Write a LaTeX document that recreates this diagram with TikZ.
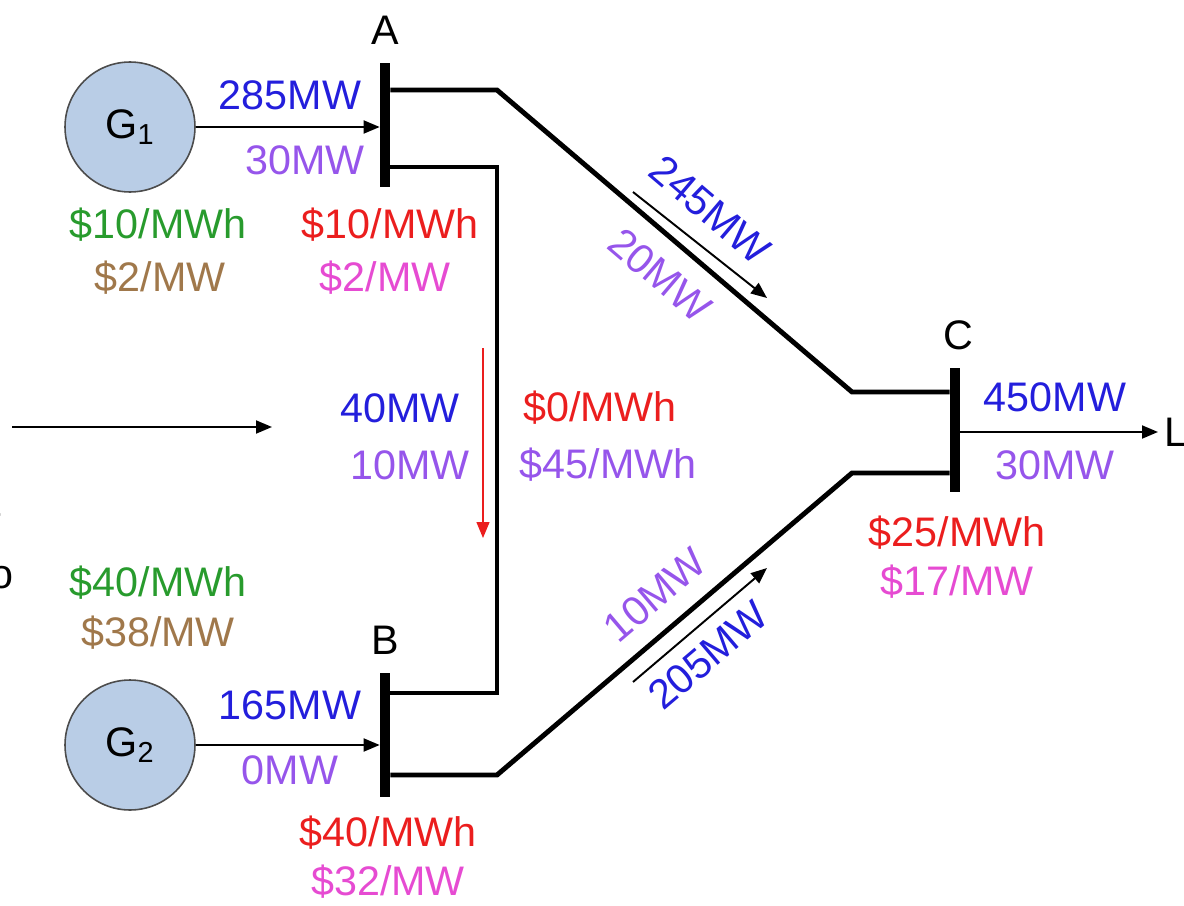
\documentclass[tikz,border=0pt]{standalone}
\usepackage{fontspec}
\setmainfont{Liberation Sans}
\usetikzlibrary{positioning,arrows.meta}
\definecolor{mwblue}{RGB}{35,30,220}
\definecolor{mwpurple}{RGB}{150,85,235}
\definecolor{costgreen}{RGB}{40,155,45}
\definecolor{costbrown}{RGB}{160,120,75}
\definecolor{lmpred}{RGB}{235,30,30}
\definecolor{lmppink}{RGB}{230,75,210}
\definecolor{genfill}{RGB}{185,205,230}
\tikzset{
  flowarrow/.style={-{Triangle[length=3.2mm,width=2.6mm]}, line width=1.1pt},
  netline/.style={line width=2.8pt, line join=miter},
  busbar/.style={fill=black, inner sep=0pt, minimum width=0.2cm, minimum height=2.5cm},
  gen/.style={circle, draw=black!70, line width=0.9pt, fill=genfill, minimum size=2.6cm, inner sep=0pt},
  lbl/.style={inner sep=1pt}
}
\begin{document}
\begin{tikzpicture}[x=0.02cm, y=-0.02cm, every node/.style={font=\fontsize{23.5}{28}\selectfont}]
  \useasboundingbox (0,0) rectangle (1184,906);
  % generators and buses
  \node[gen] (G1) at (130,127) {G\textsubscript{1}};
  \node[gen] (G2) at (130,745) {G\textsubscript{2}};
  \node[busbar] (busA) at (385,125) {};
  \node[busbar] (busB) at (385,735) {};
  \node[busbar] (busC) at (955,430) {};
  \node (labA) at (385,30) {A};
  \node (labB) at (385,640) {B};
  \node (labC) at (958,335) {C};
  \node[anchor=west] (load) at (1158,432) {L};
  \node[anchor=east] (cutT) at (7,503) {t};
  \node[anchor=east] (cutO) at (20,578) {o};
  % line bends
  \coordinate (a1) at (497,90);
  \coordinate (a2) at (497,167);
  \coordinate (b1) at (497,693);
  \coordinate (b2) at (497,775);
  \coordinate (c1) at (852,392);
  \coordinate (c2) at (852,473);
  \draw[netline] (busA.east |- a1) -- (a1) -- (c1) -- (busC.west |- c1);
  \draw[netline] (busA.east |- a2) -- (a2) -- (b1) -- (busB.east |- b1);
  \draw[netline] (busB.east |- b2) -- (b2) -- (c2) -- (busC.west |- c2);
  % injections and flows
  \draw[flowarrow] (G1) -- (G1 -| busA.west);
  \draw[flowarrow] (G2) -- (G2 -| busB.west);
  \draw[flowarrow] (busC.east |- load) -- (load.west);
  \coordinate (inL) at (12,427);
  \coordinate (inR) at (272,427);
  \draw[flowarrow] (inL) -- (inR);
  \coordinate (abS) at (483,348);
  \coordinate (abE) at (483,538);
  \draw[flowarrow, lmpred, line width=0.8pt] (abS) -- (abE);
  \coordinate (acS) at (633,192);
  \coordinate (acE) at (767,298);
  \draw[flowarrow] (acS) -- (acE);
  \coordinate (bcS) at (633,682);
  \coordinate (bcE) at (767,568);
  \draw[flowarrow] (bcS) -- (bcE);
  % labels
  \node[lbl, text=mwblue] (fG1) at (290,95) {285MW};
  \node[lbl, text=mwpurple] (rG1) at (305,160) {30MW};
  \node[lbl, text=costgreen] (cG1) at (158,225) {\$10/MWh};
  \node[lbl, text=costbrown] (kG1) at (160,278) {\$2/MW};
  \node[lbl, text=lmpred] (pA) at (390,225) {\$10/MWh};
  \node[lbl, text=lmppink] (qA) at (385,278) {\$2/MW};
  \node[lbl, text=mwblue, rotate=-40.4] (fAC) at (710,210) {245MW};
  \node[lbl, text=mwpurple, rotate=-40.4] (rAC) at (660,275) {20MW};
  \node[lbl, text=mwblue] (fAB) at (400,408) {40MW};
  \node[lbl, text=mwpurple] (rAB) at (410,465) {10MW};
  \node[lbl, text=lmpred] (pAB) at (600,408) {\$0/MWh};
  \node[lbl, text=mwpurple] (qAB) at (608,465) {\$45/MWh};
  \node[lbl, text=mwblue] (fL) at (1055,397) {450MW};
  \node[lbl, text=mwpurple] (rL) at (1055,465) {30MW};
  \node[lbl, text=lmpred] (pC) at (957,533) {\$25/MWh};
  \node[lbl, text=lmppink] (qC) at (957,582) {\$17/MW};
  \node[lbl, text=costgreen] (cG2) at (158,583) {\$40/MWh};
  \node[lbl, text=costbrown] (kG2) at (158,633) {\$38/MW};
  \node[lbl, text=mwpurple, rotate=40.4] (rBC) at (655,595) {10MW};
  \node[lbl, text=mwblue, rotate=40.4] (fBC) at (708,655) {205MW};
  \node[lbl, text=mwblue] (fG2) at (290,705) {165MW};
  \node[lbl, text=mwpurple] (rG2) at (290,770) {0MW};
  \node[lbl, text=lmpred] (pB) at (388,833) {\$40/MWh};
  \node[lbl, text=lmppink] (qB) at (388,882) {\$32/MW};
\end{tikzpicture}
\end{document}
